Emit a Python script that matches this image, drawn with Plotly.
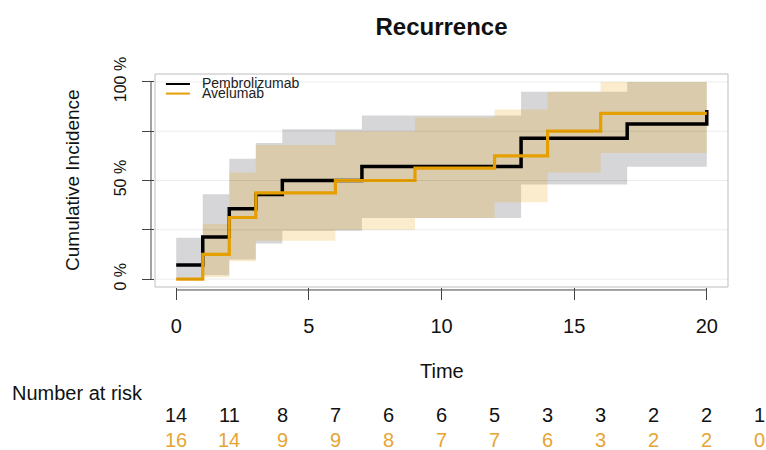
import plotly.graph_objects as go

# ---------------- data ----------------
pembro_time = [0, 1, 2, 3, 4, 7, 13, 17, 20]
pembro_cif = [0.071, 0.214, 0.357, 0.429, 0.500, 0.571, 0.714, 0.786, 0.857]
pembro_lower = [0.00, 0.02, 0.10, 0.18, 0.245, 0.31, 0.48, 0.57, 0.57]
pembro_upper = [0.21, 0.43, 0.61, 0.69, 0.76, 0.83, 0.95, 1.00, 1.00]

ave_time = [0, 1, 2, 3, 6, 9, 12, 14, 16, 20]
ave_cif = [0.0, 0.125, 0.3125, 0.4375, 0.50, 0.5625, 0.625, 0.75, 0.84, 0.84]
ave_lower = [0.0, 0.01, 0.09, 0.195, 0.25, 0.31, 0.39, 0.54, 0.64, 0.64]
ave_upper = [0.0, 0.28, 0.54, 0.68, 0.75, 0.82, 0.86, 0.95, 1.00, 1.00]

risk_time = [0, 2, 4, 6, 8, 10, 12, 14, 16, 18, 20, 22]
risk_pembro = [14, 11, 8, 7, 6, 6, 5, 3, 3, 2, 2, 1]
risk_ave = [16, 14, 9, 9, 8, 7, 7, 6, 3, 2, 2, 0]

x_ticks = [0, 5, 10, 15, 20]
y_ticks = [0, 0.25, 0.5, 0.75, 1.0]
y_ticktext = ["0 %", "", "50 %", "", "100 %"]

series_names = ["Pembrolizumab", "Avelumab"]
# --------------------------------------

BLACK = "#000000"
ORANGE = "#E69F00"
ORANGE_TXT = "#E6A532"
FONT = "Liberation Sans, Arial, Helvetica, sans-serif"

X_RANGE = [-0.8, 20.8]
Y_RANGE = [-0.04, 1.04]


def x_to_paper(t):
    """Map a time value onto the x-axis scale in paper units (risk table lies beyond the range)."""
    return (t - X_RANGE[0]) / (X_RANGE[1] - X_RANGE[0])


fig = go.Figure()

# confidence bands
fig.add_trace(go.Scatter(x=pembro_time, y=pembro_lower, mode="lines",
                         line=dict(width=0, shape="hv"), showlegend=False, hoverinfo="skip"))
fig.add_trace(go.Scatter(x=pembro_time, y=pembro_upper, mode="lines",
                         line=dict(width=0, shape="hv"), fill="tonexty",
                         fillcolor="rgba(120,120,125,0.30)", showlegend=False, hoverinfo="skip"))
fig.add_trace(go.Scatter(x=ave_time, y=ave_lower, mode="lines",
                         line=dict(width=0, shape="hv"), showlegend=False, hoverinfo="skip"))
fig.add_trace(go.Scatter(x=ave_time, y=ave_upper, mode="lines",
                         line=dict(width=0, shape="hv"), fill="tonexty",
                         fillcolor="rgba(230,159,0,0.20)", showlegend=False, hoverinfo="skip"))

# step curves
fig.add_trace(go.Scatter(x=pembro_time, y=pembro_cif, mode="lines", name=series_names[0],
                         line=dict(color=BLACK, width=3.5, shape="hv"), showlegend=False))
fig.add_trace(go.Scatter(x=ave_time, y=ave_cif, mode="lines", name=series_names[1],
                         line=dict(color=ORANGE, width=3.2, shape="hv"), showlegend=False))

shapes = []
# gridlines (drawn above bands, like the original)
for v in y_ticks:
    shapes.append(dict(type="line", xref="paper", x0=0, x1=1, yref="y", y0=v, y1=v,
                       line=dict(color="rgba(0,0,0,0.08)", width=1), layer="above"))
# plot box
shapes.append(dict(type="rect", xref="paper", yref="paper", x0=0, x1=1, y0=0, y1=1,
                   line=dict(color="#bdbdbd", width=1)))
# R-style axis lines
shapes.append(dict(type="line", xref="paper", x0=-0.007, x1=-0.007, yref="y", y0=0, y1=1,
                   line=dict(color="#444", width=1)))
shapes.append(dict(type="line", yref="paper", y0=-0.014, y1=-0.014, xref="x", x0=0, x1=20,
                   line=dict(color="#444", width=1)))
# legend keys
shapes.append(dict(type="line", xref="paper", yref="paper", x0=0.019, x1=0.061, y0=0.953, y1=0.953,
                   line=dict(color=BLACK, width=2)))
shapes.append(dict(type="line", xref="paper", yref="paper", x0=0.019, x1=0.061, y0=0.908, y1=0.908,
                   line=dict(color=ORANGE, width=2)))

ann = []
ann.append(dict(text=series_names[0], xref="paper", yref="paper", x=0.0785, y=0.958,
                xanchor="left", yanchor="middle", showarrow=False,
                font=dict(family=FONT, size=14, color="#222")))
ann.append(dict(text=series_names[1], xref="paper", yref="paper", x=0.0785, y=0.913,
                xanchor="left", yanchor="middle", showarrow=False,
                font=dict(family=FONT, size=14, color="#222")))
# axis titles
ann.append(dict(text="Cumulative Incidence", xref="paper", yref="paper", x=-0.145, y=0.502,
                textangle=-90, xanchor="center", yanchor="middle", showarrow=False,
                font=dict(family=FONT, size=19, color="#111")))
ann.append(dict(text="Time", xref="paper", yref="paper", x=0.5, y=-(371 - 287) / 213,
                xanchor="center", yanchor="middle", showarrow=False,
                font=dict(family=FONT, size=20, color="#111")))
# number at risk table
ann.append(dict(text="Number at risk", xref="paper", yref="paper", x=(10 - 155) / 573,
                y=-(393 - 287) / 213, xanchor="left", yanchor="middle", showarrow=False,
                font=dict(family=FONT, size=20, color="#111")))
for t, n in zip(risk_time, risk_pembro):
    ann.append(dict(text=str(n), xref="paper", yref="paper", x=x_to_paper(t), y=-(415 - 287) / 213,
                    xanchor="center", yanchor="middle", showarrow=False,
                    font=dict(family=FONT, size=20, color="#111")))
for t, n in zip(risk_time, risk_ave):
    ann.append(dict(text=str(n), xref="paper", yref="paper", x=x_to_paper(t), y=-(440 - 287) / 213,
                    xanchor="center", yanchor="middle", showarrow=False,
                    font=dict(family=FONT, size=20, color=ORANGE_TXT)))

fig.update_layout(
    width=766, height=450,
    margin=dict(l=155, r=38, t=74, b=163),
    paper_bgcolor="white", plot_bgcolor="white",
    title=dict(text="<b>Recurrence</b>", x=0.5, xref="paper", xanchor="center",
               y=1 - 27 / 450, yref="container", yanchor="middle",
               font=dict(family=FONT, size=24, color="#111")),
    font=dict(family=FONT, color="#111"),
    shapes=shapes, annotations=ann,
    showlegend=False,
)
fig.update_xaxes(range=X_RANGE, tickvals=x_ticks, ticks="outside", ticklen=12,
                 tickcolor="#444", showgrid=False, zeroline=False, showline=False,
                 tickfont=dict(family=FONT, size=20, color="#111"), ticklabelstandoff=9)
fig.update_yaxes(range=Y_RANGE, tickvals=y_ticks, ticktext=y_ticktext, ticks="outside",
                 ticklen=12, tickcolor="#444", showgrid=False, zeroline=False, showline=False,
                 tickangle=-90, tickfont=dict(family=FONT, size=16, color="#111"),
                 ticklabelstandoff=10)

fig.write_html("out.html", config={"displayModeBar": False},
               post_script="document.body.style.margin='0';")
